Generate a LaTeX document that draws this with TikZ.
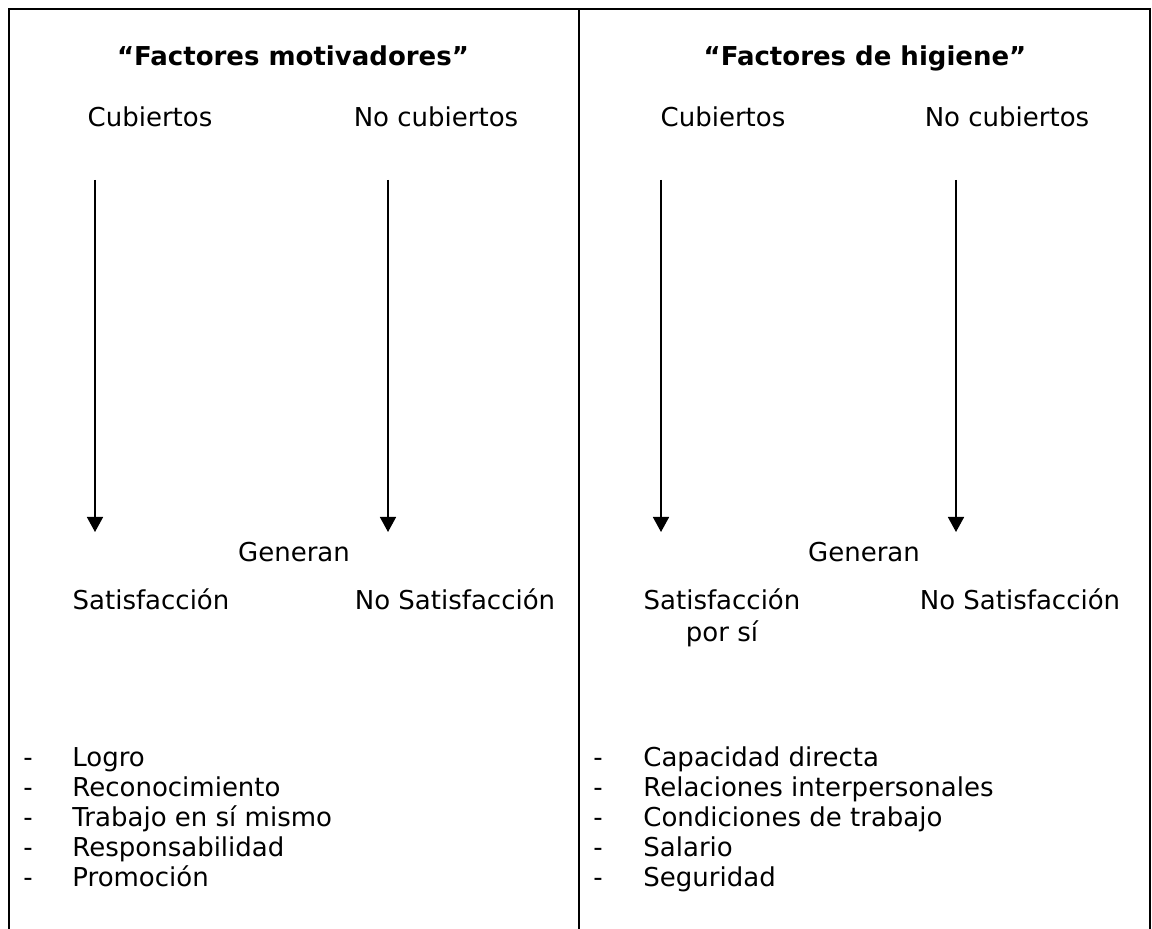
\documentclass[tikz,border=0pt]{standalone}
\usepackage{fontspec}
\setmainfont{DejaVu Sans}
\usetikzlibrary{arrows.meta}
\begin{document}
\begin{tikzpicture}[
            x=0.5pt, y=-0.5pt,
            every node/.style={inner sep=0pt, anchor=base, font=\fontsize{13}{16}\selectfont},
            titulo/.style={font=\fontsize{13}{16}\selectfont\bfseries},
            punto/.style={anchor=base west},
            marco/.style={line width=1pt},
            flecha/.style={line width=0.8pt, -{Triangle[length=7.5pt,width=8pt]}}
            ]
            \useasboundingbox (0,0) rectangle (1152,929);
            % marco de la tabla
            \draw[marco] (9,929) -- (9,9) -- (1150,9) -- (1150,929);
            \draw[marco] (579,9) -- (579,929);
            % columna izquierda
            \node[titulo] (motiv) at (293,66) {“Factores motivadores”};
            \node (mcub) at (150,127) {Cubiertos};
            \node (mnocub) at (436,127) {No cubiertos};
            \coordinate (mcub1) at (95,180);
            \coordinate (mcub2) at (95,532);
            \coordinate (mnocub1) at (388,180);
            \coordinate (mnocub2) at (388,532);
            \draw[flecha] (mcub1) -- (mcub2);
            \draw[flecha] (mnocub1) -- (mnocub2);
            \node (mgen) at (294,562) {Generan};
            \node (msat) at (151,610) {Satisfacción};
            \node (mnosat) at (455,610) {No Satisfacción};
            \foreach \txt [count=\k] in {Logro, Reconocimiento, Trabajo en sí mismo, Responsabilidad, Promoción} {
                \node[punto] (mguion\k) at (23,737+30*\k) {-};
                \node[punto] (mitem\k) at (72,737+30*\k) {\txt};
            }
            % columna derecha
            \node[titulo] (higie) at (865,66) {“Factores de higiene”};
            \node (hcub) at (723,127) {Cubiertos};
            \node (hnocub) at (1007,127) {No cubiertos};
            \coordinate (hcub1) at (661,180);
            \coordinate (hcub2) at (661,532);
            \coordinate (hnocub1) at (956,180);
            \coordinate (hnocub2) at (956,532);
            \draw[flecha] (hcub1) -- (hcub2);
            \draw[flecha] (hnocub1) -- (hnocub2);
            \node (hgen) at (864,562) {Generan};
            \node[align=center] (hsat) at (722,642) {Satisfacción\\por sí};
            \node (hnosat) at (1020,610) {No Satisfacción};
            \foreach \txt [count=\k] in {Capacidad directa, Relaciones interpersonales, Condiciones de trabajo, Salario, Seguridad} {
                \node[punto] (hguion\k) at (593,737+30*\k) {-};
                \node[punto] (hitem\k) at (643,737+30*\k) {\txt};
            }
\end{tikzpicture}
\end{document}
